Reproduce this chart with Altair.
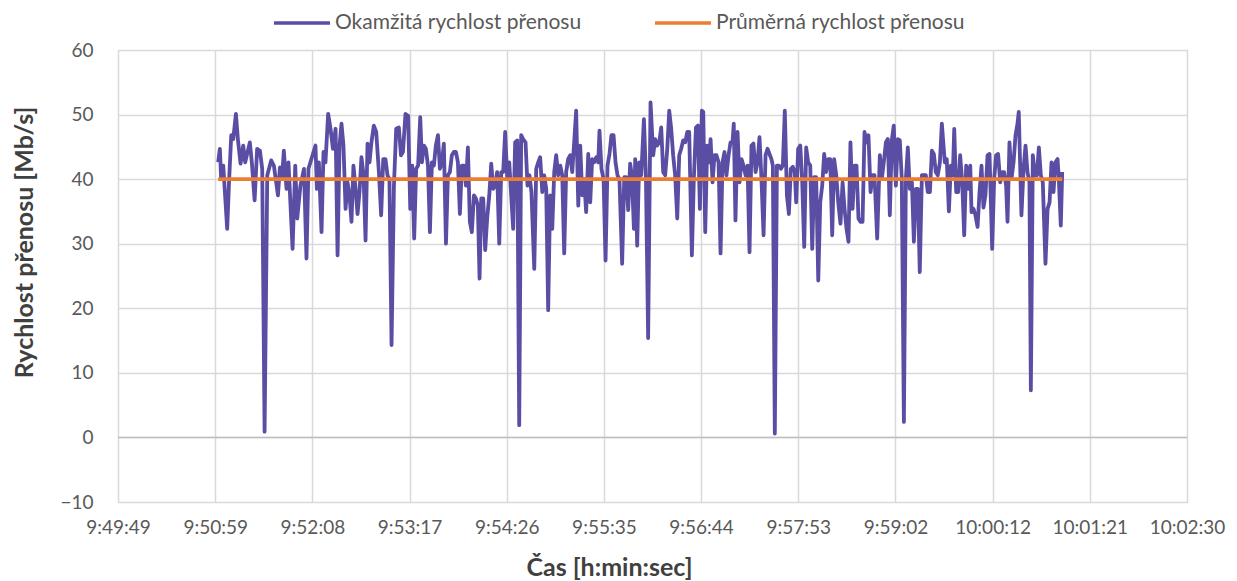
import altair as alt
import pandas as pd

# start of measurement: 9:51:00 (seconds since midnight)
T0 = 35460

# time offsets from T0 [s]
cas_s = [
    0.7, 1.9, 2.8, 4.3, 7.1, 8.5, 10.0, 11.4, 13.3, 14.7, 16.6, 18.5, 19.9, 23.2, 24.7, 26.6, 28.4, 30.4,
    32.0, 33.7, 35.6, 38.4, 40.3, 43.2, 44.6, 46.0, 47.4, 49.3, 50.7, 53.6, 55.5, 56.9, 59.2, 61.7, 63.5, 64.9,
    69.9, 70.9, 72.3, 74.2, 75.6, 77.0, 78.9, 80.6, 82.3, 84.2, 85.6, 87.0, 88.4, 89.8, 91.3, 92.7, 94.1, 95.5,
    96.9, 98.4, 99.8, 101.2, 102.6, 104.1, 105.5, 106.9, 108.3, 109.7, 111.4, 113.1, 115.0, 116.6, 118.1, 119.7,
    121.1, 122.5, 124.0, 125.7, 127.3, 129.2, 130.7, 132.1, 133.9, 135.8, 137.3, 138.7, 140.1, 141.5, 142.9, 144.4,
    145.6, 147.0, 148.4, 149.9, 151.3, 152.7, 154.1, 155.5, 157.0, 158.4, 159.8, 161.2, 162.7, 164.1, 165.5,
    166.9, 168.3, 169.8, 171.2, 172.6, 174.0, 175.5, 176.9, 178.3, 179.7, 181.1, 182.6, 184.0, 185.4, 186.6,
    187.8, 189.2, 190.6, 192.0, 193.5, 194.9, 196.3, 197.7, 199.1, 200.6, 202.0, 203.4, 204.8, 206.3, 207.7,
    209.1, 210.5, 211.9, 213.4, 214.8, 216.2, 217.6,
    219.3, 220.7, 222.1, 223.5, 225.5, 226.9, 228.3, 229.7, 231.2, 232.6, 234.0, 235.4, 236.8, 238.3, 239.7,
    241.1, 242.5, 244.0, 245.4, 246.8, 248.2, 249.6, 251.1, 252.5, 253.9, 255.3, 256.8, 258.2, 259.6, 261.0,
    262.4, 263.9, 265.3, 266.7, 268.1, 269.6, 271.0, 271.9, 273.3, 274.8, 276.2, 277.6, 279.0, 280.4, 281.9,
    283.3, 284.7, 286.1, 288.0, 289.5, 290.9, 292.3, 293.7,
    294.9, 296.4, 297.3, 298.7, 300.1, 301.6, 303.5, 304.9, 306.5, 308.2, 310.1, 311.5, 312.9, 314.4, 315.8,
    317.2, 318.6, 320.1, 321.5, 322.9, 324.3, 325.7, 327.2, 328.6, 330.0, 331.4, 332.9, 334.3, 335.7, 337.6,
    339.0, 340.5, 341.9, 343.3, 344.7, 345.7, 347.1, 348.5, 349.9, 350.9, 352.3, 353.7, 355.1, 356.6, 358.0,
    359.4, 360.8, 362.2, 363.7, 365.1, 366.5, 367.4,
    368.6, 370.1, 371.5, 372.9, 374.3, 375.8, 377.2, 378.6, 380.0, 381.4, 382.9, 384.3, 385.7, 387.1, 388.6,
    390.0, 391.4, 392.8, 394.2, 395.2, 396.6, 398.1, 399.5, 400.9, 402.3, 403.7, 405.2, 406.6, 408.0, 409.4,
    410.8, 411.8, 413.2, 414.7, 416.1, 417.5, 418.9, 420.3, 421.8, 423.2, 424.6, 426.0, 427.5, 428.9, 430.3,
    431.7, 433.1, 434.6, 436.0, 437.4, 438.8, 440.3, 441.7,
    443.3, 444.8, 446.2, 447.6, 449.0, 450.4, 451.9, 453.3, 454.7, 456.1, 457.5, 459.0, 460.4, 461.8, 463.2,
    464.7, 466.1, 467.5, 469.4, 471.3, 472.7, 474.1, 475.6, 477.0, 478.4, 479.8, 481.2, 482.7, 484.1, 485.5,
    486.9, 488.4, 489.8, 491.2, 492.6, 494.1, 495.5, 496.9, 498.3, 499.7, 501.2, 502.6, 504.0, 505.4, 506.9,
    508.3, 509.7, 511.1, 512.5, 514.0, 515.4,
    517.5, 518.9, 520.4, 521.8, 523.2, 524.2, 525.6, 527.0, 528.4, 529.9, 531.3, 532.7, 534.1, 535.6, 536.5,
    537.9, 539.3, 540.8, 542.2, 543.6, 545.0, 546.4, 547.9, 549.3, 551.2, 552.6, 554.0, 555.4, 556.9, 558.3,
    559.7, 561.1, 562.1, 563.5, 564.9, 566.4, 567.8, 569.2, 570.1, 572.0, 573.5, 574.9, 576.3, 577.7, 578.7,
    580.1, 581.6, 583.0, 584.4, 585.8, 587.2, 589.1, 590.6, 592.0, 593.4, 594.8, 596.2, 597.7, 598.6, 600.0,
    601.0,
]

# instantaneous transfer rate [Mb/s]
rychlost = [
    42.6, 44.7, 40.0, 42.1, 32.3, 40.0, 46.8, 46.2, 50.1, 46.2, 42.4, 45.2, 42.6, 45.7, 42.4, 36.7, 44.7, 44.4,
    41.6, 0.9, 40.6, 42.9, 42.1, 37.5, 41.8, 40.0, 44.4, 38.5, 42.6, 29.2, 42.1, 33.9, 39.0, 41.6, 27.7, 41.6,
    45.2, 38.5, 42.6, 31.8, 44.2, 42.6, 50.1, 47.8, 44.7, 47.8, 28.2, 45.2, 48.6, 45.2, 35.4, 39.5, 37.5, 33.4,
    42.1, 38.5, 34.6, 38.0, 43.4, 40.6, 30.5, 45.5, 42.6, 45.7, 48.3, 47.3, 41.1, 34.4, 43.1, 43.1,
    40.6, 40.0, 14.3, 39.0, 47.8, 48.0, 43.7, 44.2, 50.1, 49.8, 35.4, 42.1, 30.8, 41.6, 42.1, 49.6,
    42.6, 45.2, 44.7, 42.1, 31.8, 42.6, 42.1, 45.2, 46.8, 41.6, 42.6, 45.5, 30.0, 40.6, 41.1,
    43.7, 44.2, 44.2, 42.6, 34.6, 42.1, 42.1, 39.0, 44.9, 33.4, 31.8, 37.5, 37.0, 35.9, 24.6,
    37.0, 37.0, 29.0, 33.9, 37.5, 42.4, 38.5, 39.0, 41.1, 30.0, 41.1, 41.1, 47.3, 40.0, 42.6,
    37.5, 32.3, 45.7, 46.0, 1.9, 46.8, 46.2,
    45.7, 39.0, 40.6, 38.0, 26.1, 41.6, 42.6, 43.4, 38.0, 40.6, 38.5, 19.7, 37.5, 32.3, 41.1,
    43.7, 40.6, 42.1, 40.6, 28.5, 41.1, 43.1, 43.7, 41.1, 45.7, 50.6, 35.9, 45.2, 37.5, 40.0,
    34.9, 43.9, 36.4, 43.1, 42.6, 43.4, 42.6, 47.5, 41.6, 40.0, 27.4, 42.1, 43.9, 46.8, 46.8,
    42.6, 40.6, 40.0, 26.9, 40.3, 40.3, 35.2, 42.4,
    40.6, 32.3, 43.1, 29.7, 42.6, 40.6, 49.3, 40.6, 15.4, 51.9, 43.7, 46.2, 45.2, 45.7, 48.0,
    41.1, 40.6, 44.7, 50.6, 47.8, 43.7, 40.6, 33.9, 43.7, 44.7, 46.0, 45.7, 47.3, 47.3, 28.2,
    40.0, 48.0, 48.3, 35.4, 50.6, 50.4, 31.8, 45.2, 42.6, 46.2, 39.5, 43.7, 43.7, 42.6, 28.5,
    42.6, 44.2, 40.6, 43.7, 45.7, 45.7, 48.6,
    33.6, 47.3, 39.5, 43.1, 42.1, 40.6, 42.1, 28.7, 45.2, 45.5, 41.1, 42.6, 46.5, 40.0, 31.3,
    43.7, 44.7, 43.9, 43.1, 42.1, 0.6, 42.1, 42.1, 41.6, 42.1, 50.6, 37.5, 34.6, 41.6, 41.9,
    41.1, 36.4, 44.7, 45.2, 39.5, 29.5, 44.9, 42.6, 42.1, 29.2, 40.3, 40.3, 24.3, 36.4, 39.0,
    43.9, 41.1, 43.1, 43.1, 31.3, 43.1, 40.6, 36.4,
    33.1, 39.5, 35.4, 32.3, 30.3, 45.7, 35.4, 42.1, 42.1, 33.9, 33.4, 33.4, 47.3, 45.7, 46.8,
    38.0, 40.6, 40.6, 30.8, 43.7, 40.0, 42.6, 45.7, 46.2, 34.4, 46.0, 48.3, 39.0, 46.2, 46.0,
    40.0, 2.4, 40.0, 44.9, 38.5, 39.5, 30.3, 38.5, 38.5, 25.6, 40.6, 40.6, 40.6, 38.0, 38.0,
    44.4, 43.9, 41.1, 40.6, 42.6, 48.6,
    42.6, 43.1, 35.0, 42.1, 40.6, 47.8, 38.0, 38.0, 43.7, 39.5, 31.3, 42.1, 38.5, 42.1, 34.9,
    35.4, 34.4, 32.6, 38.0, 42.1, 35.6, 37.5, 43.7, 43.9, 29.2, 40.0, 43.7, 43.9, 39.5, 41.1,
    41.1, 39.0, 33.4, 45.7, 40.0, 42.6, 46.8, 48.6, 50.4, 34.4, 41.6, 45.2, 41.1, 39.5, 7.3,
    43.7, 40.6, 40.6, 44.9, 40.6, 39.5, 26.9, 35.4, 36.4, 42.6, 38.0, 42.6, 43.1, 40.0, 32.8,
    41.1,
]

prumer = 40.0  # average transfer rate [Mb/s]

assert len(cas_s) == len(rychlost), (len(cas_s), len(rychlost))

serie = ["Okamžitá rychlost přenosu", "Průměrná rychlost přenosu"]
barvy = ["#5A4EA4", "#ED7D31"]

x_ticks = [35389.44, 35458.56, 35527.68, 35596.80, 35665.92, 35735.04,
           35804.16, 35873.28, 35942.40, 36011.52, 36080.64, 36149.76]
x_labels = ["9:49:49", "9:50:59", "9:52:08", "9:53:17", "9:54:26", "9:55:35",
            "9:56:44", "9:57:53", "9:59:02", "10:00:12", "10:01:21", "10:02:30"]
y_ticks = [-10, 0, 10, 20, 30, 40, 50, 60]

okamzita = pd.DataFrame({
    "cas": [T0 + t for t in cas_s],
    "rychlost": rychlost,
    "serie": serie[0],
})
prumerna = pd.DataFrame({
    "cas": [T0 + cas_s[0], T0 + cas_s[-1]],
    "rychlost": [prumer, prumer],
    "serie": serie[1],
})

FONT = "Lato"
label_expr = ("[" + ",".join(f"'{s}'" for s in x_labels) + "]"
              f"[round((datum.value-{x_ticks[0]})/{x_ticks[1]-x_ticks[0]:.2f})]")

x_enc = alt.X(
    "cas:Q",
    scale=alt.Scale(domain=[x_ticks[0], x_ticks[-1]], nice=False, zero=False),
    axis=alt.Axis(
        values=x_ticks, labelExpr=label_expr, title="Čas [h:min:sec]",
        grid=True, gridColor="#d9d9d9", gridWidth=1.5, domain=False, ticks=False,
        labelFont=FONT, labelFontSize=19, labelColor="#595959", labelPadding=16,
        labelFlush=False, labelOverlap=False,
        titleFont=FONT, titleFontSize=25, titleFontWeight="bold", titleColor="#404040",
        titleX=491, titleY=65, titleAlign="center", titleBaseline="middle",
    ),
)
y_enc = alt.Y(
    "rychlost:Q",
    scale=alt.Scale(domain=[-10, 60], nice=False, zero=False),
    axis=alt.Axis(
        values=y_ticks, title="Rychlost přenosu [Mb/s]",
        grid=True, gridColor="#d9d9d9", gridWidth=1.5, domain=False, ticks=False,
        labelFont=FONT, labelFontSize=19, labelColor="#595959", labelPadding=25,
        labelFlush=False, labelOverlap=False,
        titleFont=FONT, titleFontSize=25, titleFontWeight="bold", titleColor="#404040",
        titleX=-94, titleY=192, titleAngle=270, titleAlign="center", titleBaseline="middle",
    ),
)
color_enc = alt.Color(
    "serie:N",
    scale=alt.Scale(domain=serie, range=barvy),
    legend=alt.Legend(
        title=None, orient="none", legendX=154, legendY=-57, direction="horizontal",
        symbolType="stroke", symbolSize=3136, symbolStrokeWidth=3.5,
        labelFont=FONT, labelFontSize=21, labelColor="#595959", labelOffset=3,
        labelLimit=0, columnPadding=66,
    ),
)

zero_line = alt.Chart(pd.DataFrame({"y": [0]})).mark_rule(
    color="#bfbfbf", strokeWidth=1.5
).encode(y=alt.Y("y:Q", scale=alt.Scale(domain=[-10, 60], nice=False)))

line1 = alt.Chart(okamzita).mark_line(strokeWidth=3.8, strokeJoin="round").encode(
    x=x_enc, y=y_enc, color=color_enc
)
line2 = alt.Chart(prumerna).mark_line(strokeWidth=3.8).encode(
    x=x_enc, y=y_enc, color=color_enc
)

chart = alt.layer(zero_line, line1, line2).properties(
    width=1069, height=452,
    padding={"left": 110, "top": 42, "right": 42, "bottom": 79},
    autosize=alt.AutoSizeParams(type="none"),
).configure_view(stroke=None).configure(background="white")

chart.save("out.html", embed_options={"renderer": "svg", "actions": False})
